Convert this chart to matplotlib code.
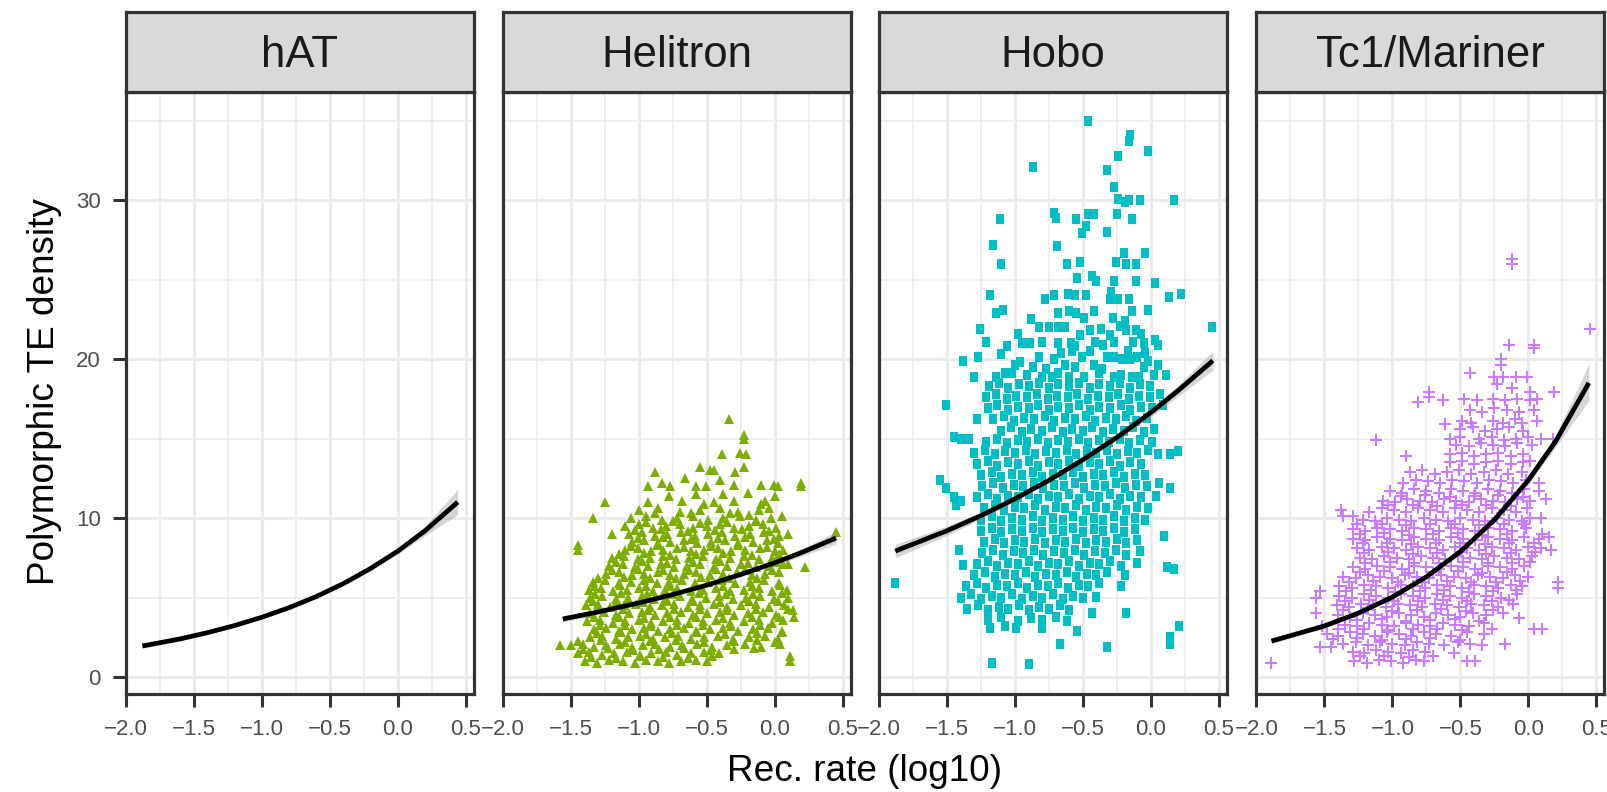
import numpy as np
import matplotlib.pyplot as plt
from matplotlib.ticker import MultipleLocator

plt.rcParams['font.family'] = ['Liberation Sans', 'DejaVu Sans']

### facets and colours
families = ['hAT', 'Helitron', 'Hobo', 'Tc1/Mariner']
point_cols = ['#F8766D', '#7CAE00', '#00BFC4', '#C77CFF']

x_ticks = [-2.0, -1.5, -1.0, -0.5, 0.0, 0.5]
x_ticklabels = ['\u22122.0', '\u22121.5', '\u22121.0', '\u22120.5', '0.0', '0.5']
y_ticks = [0, 10, 20, 30]
y_ticklabels = ['0', '10', '20', '30']

### points (rec. rate log10, TE density)
helitron_pts = [
    (-1.40, 1.0), (-1.31, 0.9), (-1.22, 1.1), (-1.12, 1.0), (-1.03, 0.9), (-0.95, 1.1), (-0.86, 1.0), (-0.78, 0.9), (-0.69, 1.0), (-0.58, 1.1), (-0.50, 1.0), (0.11, 1.0),
    (-1.35, 1.25), (-1.17, 1.2), (-0.99, 1.3), (-0.82, 1.25), (-0.64, 1.2), (-0.46, 1.3),
    (-1.45, 1.5), (-1.37, 1.6), (-1.27, 1.4), (-1.18, 1.5), (-1.09, 1.6), (-0.99, 1.4), (-0.91, 1.5), (-0.80, 1.6), (-0.72, 1.4), (-0.62, 1.5), (-0.52, 1.6), (-0.41, 1.5), (0.11, 1.3),
    (-1.41, 1.75), (-1.23, 1.8), (-1.04, 1.7), (-0.85, 1.75), (-0.67, 1.8), (-0.47, 1.7), (-0.30, 1.75), (-0.15, 1.8),
    (-1.58, 2.0), (-1.50, 2.0), (-1.41, 2.1), (-1.33, 1.9), (-1.24, 2.0), (-1.14, 2.1), (-1.05, 1.9), (-0.97, 2.0), (-0.88, 2.1), (-0.77, 1.9), (-0.68, 2.0), (-0.57, 2.1), (-0.46, 1.9), (-0.35, 2.0), (-0.22, 2.1), (-0.10, 1.9), (0.04, 2.1),
    (-1.45, 2.25), (-1.28, 2.3), (-1.10, 2.2), (-0.92, 2.25), (-0.73, 2.3), (-0.52, 2.2), (-0.30, 2.25), (-0.13, 2.3), (0.00, 2.2),
    (-1.36, 2.5), (-1.27, 2.6), (-1.17, 2.4), (-1.08, 2.5), (-0.99, 2.6), (-0.90, 2.4), (-0.81, 2.5), (-0.71, 2.6), (-0.62, 2.4), (-0.52, 2.5), (-0.42, 2.6), (-0.31, 2.4), (-0.19, 2.5), (-0.07, 2.6), (0.02, 2.4),
    (-1.31, 2.75), (-1.13, 2.8), (-0.95, 2.7), (-0.76, 2.75), (-0.57, 2.8), (-0.37, 2.7), (-0.13, 2.75), (0.05, 2.8),
    (-1.33, 3.0), (-1.24, 3.1), (-1.15, 2.9), (-1.05, 3.0), (-0.96, 3.1), (-0.86, 2.9), (-0.77, 3.0), (-0.67, 3.1), (-0.58, 2.9), (-0.48, 3.0), (-0.38, 3.1), (-0.27, 2.9), (-0.16, 3.0), (-0.05, 3.1), (0.05, 2.9),
    (-1.29, 3.25), (-1.10, 3.3), (-0.91, 3.2), (-0.72, 3.25), (-0.53, 3.3), (-0.32, 3.2), (-0.11, 3.25),
    (-1.38, 3.5), (-1.29, 3.6), (-1.19, 3.4), (-1.10, 3.5), (-1.00, 3.6), (-0.91, 3.4), (-0.82, 3.5), (-0.72, 3.6), (-0.63, 3.4), (-0.53, 3.5), (-0.43, 3.6), (-0.33, 3.4), (-0.23, 3.5), (-0.12, 3.6), (-0.02, 3.4), (0.06, 3.6),
    (-1.33, 3.75), (-1.15, 3.8), (-0.96, 3.7), (-0.77, 3.75), (-0.58, 3.8), (-0.38, 3.7), (-0.17, 3.75), (0.03, 3.8),
    (-1.36, 4.0), (-1.26, 4.1), (-1.17, 3.9), (-1.07, 4.0), (-0.98, 4.1), (-0.88, 3.9), (-0.79, 4.0), (-0.69, 4.1), (-0.60, 3.9), (-0.50, 4.0), (-0.40, 4.1), (-0.30, 3.9), (-0.20, 4.0), (-0.09, 4.1), (0.01, 3.9), (0.13, 4.2),
    (-1.31, 4.25), (-1.12, 4.3), (-0.93, 4.2), (-0.74, 4.25), (-0.55, 4.3), (-0.35, 4.2), (-0.14, 4.25), (0.10, 4.3),
    (-1.39, 4.5), (-1.30, 4.6), (-1.21, 4.4), (-1.11, 4.5), (-1.02, 4.6), (-0.92, 4.4), (-0.83, 4.5), (-0.74, 4.6), (-0.64, 4.4), (-0.55, 4.5), (-0.45, 4.6), (-0.35, 4.4), (-0.25, 4.5), (-0.14, 4.6), (-0.04, 4.4), (0.07, 4.5), (0.14, 3.8),
    (-1.34, 4.75), (-1.16, 4.8), (-0.97, 4.7), (-0.79, 4.75), (-0.60, 4.8), (-0.40, 4.7), (-0.19, 4.75), (0.02, 4.8),
    (-1.36, 5.0), (-1.27, 5.1), (-1.17, 4.9), (-1.08, 5.0), (-0.98, 5.1), (-0.89, 4.9), (-0.80, 5.0), (-0.70, 5.1), (-0.61, 4.9), (-0.51, 5.0), (-0.41, 5.1), (-0.31, 4.9), (-0.21, 5.0), (-0.11, 5.1), (-0.01, 4.9), (0.10, 5.0),
    (-1.32, 5.25), (-1.13, 5.3), (-0.94, 5.2), (-0.75, 5.25), (-0.56, 5.3), (-0.36, 5.2), (-0.16, 5.25), (0.05, 5.3),
    (-1.37, 5.5), (-1.28, 5.6), (-1.19, 5.4), (-1.09, 5.5), (-1.00, 5.6), (-0.90, 5.4), (-0.81, 5.5), (-0.72, 5.6), (-0.62, 5.4), (-0.53, 5.5), (-0.43, 5.6), (-0.33, 5.4), (-0.23, 5.5), (-0.12, 5.6), (-0.02, 5.4), (0.09, 5.5),
    (-1.33, 5.75), (-1.14, 5.8), (-0.95, 5.7), (-0.77, 5.75), (-0.58, 5.8), (-0.38, 5.7), (-0.17, 5.75), (0.04, 5.8),
    (-1.34, 6.0), (-1.25, 6.1), (-1.15, 5.9), (-1.06, 6.0), (-0.96, 6.1), (-0.87, 5.9), (-0.78, 6.0), (-0.68, 6.1), (-0.59, 5.9), (-0.49, 6.0), (-0.39, 6.1), (-0.29, 5.9), (-0.18, 6.0), (-0.08, 6.1), (0.03, 5.9),
    (-1.30, 6.25), (-1.11, 6.3), (-0.92, 6.2), (-0.73, 6.25), (-0.54, 6.3), (-0.34, 6.2), (-0.13, 6.25),
    (-1.24, 6.5), (-1.15, 6.6), (-1.05, 6.4), (-0.96, 6.5), (-0.86, 6.6), (-0.77, 6.4), (-0.67, 6.5), (-0.58, 6.6), (-0.48, 6.4), (-0.38, 6.5), (-0.28, 6.6), (-0.17, 6.4), (-0.07, 6.5), (0.03, 6.6),
    (-1.20, 6.75), (-1.01, 6.8), (-0.82, 6.7), (-0.63, 6.75), (-0.43, 6.8), (-0.22, 6.7), (-0.02, 6.75),
    (-1.22, 7.0), (-1.12, 7.1), (-1.03, 6.9), (-0.93, 7.0), (-0.84, 7.1), (-0.74, 6.9), (-0.65, 7.0), (-0.55, 7.1), (-0.45, 6.9), (-0.35, 7.0), (-0.25, 7.1), (-0.14, 6.9), (-0.04, 7.0), (0.06, 7.1), (0.22, 6.9), (0.10, 7.1),
    (-1.17, 7.25), (-0.98, 7.3), (-0.79, 7.2), (-0.60, 7.25), (-0.40, 7.3), (-0.20, 7.2), (0.01, 7.25),
    (-1.20, 7.5), (-1.11, 7.6), (-1.01, 7.4), (-0.92, 7.5), (-0.82, 7.6), (-0.73, 7.4), (-0.63, 7.5), (-0.53, 7.6), (-0.43, 7.4), (-0.33, 7.5), (-0.23, 7.6), (-0.12, 7.4), (-0.02, 7.5),
    (-1.15, 7.75), (-0.96, 7.8), (-0.77, 7.7), (-0.58, 7.75), (-0.38, 7.8), (-0.17, 7.7), (0.03, 7.75),
    (-1.45, 8.3), (-1.45, 8.0), (-1.10, 8.0), (-1.01, 8.1), (-0.91, 7.9), (-0.82, 8.0), (-0.72, 8.1), (-0.62, 7.9), (-0.52, 8.0), (-0.42, 8.1), (-0.32, 7.9), (-0.22, 8.0), (-0.11, 8.1), (0.00, 7.9), (0.06, 8.0),
    (-1.06, 8.25), (-0.87, 8.3), (-0.67, 8.2), (-0.47, 8.25), (-0.27, 8.3), (-0.06, 8.2),
    (-1.05, 8.5), (-0.96, 8.6), (-0.86, 8.4), (-0.77, 8.5), (-0.67, 8.6), (-0.57, 8.4), (-0.47, 8.5), (-0.37, 8.6), (-0.27, 8.4), (-0.16, 8.5), (-0.06, 8.6), (0.02, 8.4),
    (-1.01, 8.75), (-0.82, 8.8), (-0.62, 8.7), (-0.42, 8.75), (-0.22, 8.8), (-0.01, 8.7),
    (-1.20, 9.0), (-1.07, 9.0), (-0.98, 9.1), (-0.88, 8.9), (-0.79, 9.0), (-0.69, 9.1), (-0.59, 8.9), (-0.49, 9.0), (-0.39, 9.1), (-0.29, 8.9), (-0.18, 9.0), (-0.08, 9.1), (0.03, 8.9), (0.10, 9.0), (0.45, 9.1),
    (-1.03, 9.25), (-0.84, 9.3), (-0.64, 9.2), (-0.44, 9.25), (-0.24, 9.3), (-0.04, 9.2),
    (-1.10, 9.5), (-1.00, 9.6), (-0.90, 9.4), (-0.80, 9.5), (-0.70, 9.6), (-0.60, 9.4), (-0.50, 9.5), (-0.40, 9.6), (-0.30, 9.4), (-0.19, 9.5), (-0.09, 9.6), (0.01, 9.4),
    (-0.95, 9.75), (-0.75, 9.8), (-0.55, 9.7), (-0.35, 9.75), (-0.14, 9.8),
    (-1.34, 10.0), (-1.06, 10.0), (-0.95, 10.1), (-0.83, 9.9), (-0.72, 10.0), (-0.60, 10.1), (-0.49, 9.9), (-0.38, 10.0), (-0.26, 10.1), (-0.14, 9.9), (-0.03, 10.0), (0.05, 10.1),
    (-0.88, 10.3), (-0.62, 10.3), (-0.33, 10.3), (-0.19, 10.2),
    (-1.00, 10.5), (-0.86, 10.6), (-0.70, 10.4), (-0.55, 10.5), (-0.40, 10.6), (-0.27, 10.4), (-0.12, 10.5), (-0.04, 10.6),
    (-1.25, 11.0), (-0.93, 11.0), (-0.68, 11.1), (-0.52, 10.9), (-0.45, 11.0), (-0.30, 11.1), (-0.10, 10.9), (-0.07, 11.1),
    (-0.78, 11.4), (-0.58, 11.5), (-0.38, 11.5), (-0.20, 11.6), (0.00, 11.4),
    (-0.93, 12.0), (-0.83, 12.2), (-0.77, 12.0), (-0.58, 12.0), (-0.51, 12.0), (-0.30, 12.1), (-0.10, 12.1), (-0.01, 12.1), (0.02, 12.0), (0.19, 12.2), (0.19, 12.0),
    (-0.66, 12.5), (-0.40, 12.4),
    (-0.88, 12.9), (-0.55, 13.2), (-0.48, 13.0), (-0.45, 13.0), (-0.23, 13.2), (-0.29, 12.9), (-0.39, 14.0), (-0.26, 14.1), (-0.21, 14.0),
    (-0.23, 15.2), (-0.23, 15.0), (-0.34, 16.2),
]

hobo_pts = [
    (-0.46, 35.0), (-0.15, 34.1), (-0.16, 33.7), (-0.02, 33.1), (-0.24, 32.8), (-0.87, 32.1), (-0.32, 31.9), (-0.27, 30.8), (-0.24, 30.1), (-0.19, 29.9), (-0.16, 30.0), (-0.08, 30.0), (0.17, 30.0),
    (-1.11, 28.8), (-0.71, 29.2), (-0.70, 28.9), (-0.55, 28.8), (-0.46, 29.1), (-0.42, 29.1), (-0.25, 29.1), (-0.14, 28.8), (-0.48, 28.4), (-0.51, 27.9), (-0.32, 28.0),
    (-1.16, 27.2), (-0.69, 27.1), (-1.10, 26.0), (-0.62, 26.0), (-0.52, 26.1), (-0.20, 26.7), (-0.04, 26.7), (-0.26, 26.1), (-0.18, 26.0), (-0.11, 26.0),
    (-0.54, 25.1), (-0.43, 25.2), (-0.40, 24.9), (-0.27, 24.9), (-0.11, 24.9), (0.03, 24.8),
    (-1.18, 24.0), (-0.78, 23.8), (-0.71, 24.0), (-0.61, 24.1), (-0.56, 24.0), (-0.48, 24.0), (-0.29, 24.2), (-0.30, 23.8), (-0.24, 23.8), (-0.16, 23.8), (0.13, 23.9), (0.22, 24.1),
    (-1.14, 22.9), (-1.09, 23.1), (-0.68, 22.9), (-0.60, 23.0), (-0.55, 22.9), (-0.42, 23.0), (-0.14, 23.0), (-0.02, 23.1),
    (-0.88, 22.5), (-0.49, 22.6), (-0.28, 22.6), (-0.19, 22.4),
    (-1.26, 21.9), (-0.82, 22.0), (-0.75, 22.0), (-0.68, 22.0), (-0.63, 22.0), (-0.45, 21.8), (-0.37, 21.9), (-0.23, 22.1), (-0.18, 21.8), (-0.11, 21.8), (0.45, 22.0),
    (-0.98, 21.6), (-0.52, 21.5), (-0.30, 21.5), (-0.07, 21.6),
    (-1.21, 21.1), (-1.06, 20.8), (-0.95, 21.0), (-0.89, 21.0), (-0.80, 21.1), (-0.68, 21.0), (-0.59, 21.0), (-0.56, 20.8), (-0.41, 21.1), (-0.35, 20.9), (-0.27, 21.1), (-0.13, 21.1), (-0.05, 21.0), (0.03, 21.2), (0.05, 20.9),
    (-1.10, 20.3), (-0.66, 20.4), (-0.58, 20.5), (-0.45, 20.5), (-0.17, 20.5), (-0.04, 20.4),
    (-1.38, 19.9), (-1.27, 20.1), (-0.96, 19.8), (-0.82, 20.1), (-0.71, 20.0), (-0.51, 20.1), (-0.32, 20.1), (-0.27, 20.1), (-0.21, 20.0), (-0.15, 20.0), (-0.10, 20.1), (-0.02, 19.9),
    (-1.00, 19.6), (-0.87, 19.5), (-0.77, 19.4), (-0.63, 19.6), (-0.56, 19.5), (-0.42, 19.6), (-0.36, 19.4), (-0.05, 19.5), (0.05, 19.6),
    (-1.30, 18.9), (-1.14, 18.9), (-1.07, 19.1), (-1.02, 19.1), (-0.91, 19.0), (-0.80, 18.9), (-0.73, 18.9), (-0.68, 19.1), (-0.60, 18.9), (-0.49, 18.9), (-0.38, 19.1), (-0.27, 18.9), (-0.22, 19.0), (-0.14, 18.9), (-0.09, 18.9), (0.02, 19.0), (0.11, 19.0),
    (-1.19, 18.3), (-1.12, 18.5), (-1.05, 18.2), (-0.97, 18.4), (-0.90, 18.3), (-0.82, 18.5), (-0.75, 18.2), (-0.68, 18.4), (-0.60, 18.3), (-0.53, 18.5), (-0.45, 18.2), (-0.38, 18.4), (-0.30, 18.3), (-0.23, 18.5), (-0.15, 18.2), (-0.08, 18.4), (-0.01, 18.3),
    (-1.21, 17.6), (-1.14, 17.8), (-1.06, 17.5), (-0.99, 17.7), (-0.91, 17.6), (-0.84, 17.8), (-0.76, 17.5), (-0.69, 17.7), (-0.61, 17.6), (-0.54, 17.8), (-0.46, 17.5), (-0.39, 17.7), (-0.31, 17.6), (-0.24, 17.8), (-0.16, 17.5), (-0.09, 17.7), (-0.01, 17.6), (0.07, 17.8),
    (-1.20, 16.9), (-1.13, 17.1), (-1.05, 16.8), (-0.98, 17.0), (-0.90, 16.9), (-0.83, 17.1), (-0.75, 16.8), (-0.68, 17.0), (-0.60, 16.9), (-0.53, 17.1), (-0.45, 16.8), (-0.38, 17.0), (-0.30, 16.9), (-0.22, 17.1), (-0.15, 16.8), (-0.07, 17.0), (0.01, 16.9), (0.09, 17.1), (-1.51, 17.1),
    (-1.16, 16.2), (-1.08, 16.4), (-1.01, 16.1), (-0.93, 16.3), (-0.86, 16.2), (-0.78, 16.4), (-0.71, 16.1), (-0.63, 16.3), (-0.56, 16.2), (-0.48, 16.4), (-0.41, 16.1), (-0.33, 16.3), (-0.26, 16.2), (-0.18, 16.4), (-0.11, 16.1), (-0.03, 16.3), (-1.28, 16.2),
    (-1.10, 15.5), (-1.03, 15.7), (-0.95, 15.4), (-0.88, 15.6), (-0.80, 15.5), (-0.73, 15.7), (-0.65, 15.4), (-0.58, 15.6), (-0.50, 15.5), (-0.43, 15.7), (-0.35, 15.4), (-0.28, 15.6), (-0.20, 15.5), (-0.13, 15.7), (-0.05, 15.4), (0.02, 15.6), (-1.45, 15.1), (-1.40, 15.0), (-1.34, 15.0),
    (-1.21, 14.8), (-1.13, 15.0), (-1.06, 14.7), (-0.98, 14.9), (-0.91, 14.8), (-0.83, 15.0), (-0.76, 14.7), (-0.68, 14.9), (-0.61, 14.8), (-0.53, 15.0), (-0.46, 14.7), (-0.38, 14.9), (-0.31, 14.8), (-0.23, 15.0), (-0.16, 14.7), (-0.08, 14.9), (0.01, 14.8),
    (-1.30, 14.1), (-1.22, 14.3), (-1.15, 14.0), (-1.07, 14.2), (-1.00, 14.1), (-0.92, 14.3), (-0.85, 14.0), (-0.77, 14.2), (-0.70, 14.1), (-0.62, 14.3), (-0.55, 14.0), (-0.47, 14.2), (-0.40, 14.1), (-0.32, 14.3), (-0.25, 14.0), (-0.17, 14.2), (-0.10, 14.1), (-0.02, 14.3), (0.05, 14.0), (0.14, 14.0), (0.20, 14.2),
    (-1.28, 13.4), (-1.20, 13.6), (-1.13, 13.3), (-1.05, 13.5), (-0.98, 13.4), (-0.90, 13.6), (-0.83, 13.3), (-0.75, 13.5), (-0.68, 13.4), (-0.60, 13.6), (-0.53, 13.3), (-0.45, 13.5), (-0.38, 13.4), (-0.30, 13.6), (-0.23, 13.3), (-0.15, 13.5), (-0.07, 13.4),
    (-1.25, 12.7), (-1.17, 12.9), (-1.10, 12.6), (-1.02, 12.8), (-0.95, 12.7), (-0.87, 12.9), (-0.80, 12.6), (-0.72, 12.8), (-0.65, 12.7), (-0.57, 12.9), (-0.50, 12.6), (-0.42, 12.8), (-0.35, 12.7), (-0.27, 12.9), (-0.20, 12.6), (-0.12, 12.8), (-0.04, 12.7), (-1.55, 12.4),
    (-1.24, 12.0), (-1.16, 12.2), (-1.09, 11.9), (-1.01, 12.1), (-0.94, 12.0), (-0.86, 12.2), (-0.79, 11.9), (-0.71, 12.1), (-0.64, 12.0), (-0.56, 12.2), (-0.49, 11.9), (-0.41, 12.1), (-0.34, 12.0), (-0.26, 12.2), (-0.19, 11.9), (-0.11, 12.1), (-0.03, 12.0), (0.06, 12.2), (0.14, 11.9), (-1.51, 11.9),
    (-1.28, 11.3), (-1.20, 11.5), (-1.13, 11.2), (-1.05, 11.4), (-0.98, 11.3), (-0.90, 11.5), (-0.83, 11.2), (-0.75, 11.4), (-0.68, 11.3), (-0.60, 11.5), (-0.53, 11.2), (-0.45, 11.4), (-0.38, 11.3), (-0.30, 11.5), (-0.23, 11.2), (-0.15, 11.4), (-0.07, 11.3), (0.04, 11.4), (-1.45, 11.3), (-1.40, 11.1), (-1.43, 10.8),
    (-1.23, 10.6), (-1.15, 10.8), (-1.08, 10.5), (-1.00, 10.7), (-0.93, 10.6), (-0.85, 10.8), (-0.78, 10.5), (-0.70, 10.7), (-0.63, 10.6), (-0.55, 10.8), (-0.48, 10.5), (-0.40, 10.7), (-0.33, 10.6), (-0.25, 10.8), (-0.18, 10.5), (-0.10, 10.7), (-0.02, 10.6),
    (-1.25, 9.9), (-1.17, 10.1), (-1.10, 9.8), (-1.02, 10.0), (-0.95, 9.9), (-0.87, 10.1), (-0.80, 9.8), (-0.72, 10.0), (-0.65, 9.9), (-0.57, 10.1), (-0.50, 9.8), (-0.42, 10.0), (-0.35, 9.9), (-0.27, 10.1), (-0.20, 9.8), (-0.12, 10.0), (-0.04, 9.9),
    (-1.25, 9.2), (-1.17, 9.4), (-1.10, 9.1), (-1.02, 9.3), (-0.95, 9.2), (-0.87, 9.4), (-0.80, 9.1), (-0.72, 9.3), (-0.65, 9.2), (-0.57, 9.4), (-0.50, 9.1), (-0.42, 9.3), (-0.35, 9.2), (-0.27, 9.4), (-0.20, 9.1), (-0.12, 9.3), (0.10, 8.9),
    (-1.23, 8.5), (-1.15, 8.7), (-1.08, 8.4), (-1.00, 8.6), (-0.93, 8.5), (-0.85, 8.7), (-0.78, 8.4), (-0.70, 8.6), (-0.63, 8.5), (-0.55, 8.7), (-0.48, 8.4), (-0.40, 8.6), (-0.33, 8.5), (-0.25, 8.7), (-0.18, 8.4), (-0.10, 8.6),
    (-1.24, 7.8), (-1.16, 8.0), (-1.09, 7.7), (-1.01, 7.9), (-0.94, 7.8), (-0.86, 8.0), (-0.79, 7.7), (-0.71, 7.9), (-0.64, 7.8), (-0.56, 8.0), (-0.49, 7.7), (-0.41, 7.9), (-0.34, 7.8), (-0.26, 8.0), (-0.18, 7.7), (-0.08, 7.9), (-1.41, 8.0),
    (-1.28, 7.1), (-1.20, 7.3), (-1.13, 7.0), (-1.05, 7.2), (-0.98, 7.1), (-0.90, 7.3), (-0.83, 7.0), (-0.75, 7.2), (-0.68, 7.1), (-0.60, 7.3), (-0.53, 7.0), (-0.45, 7.2), (-0.38, 7.1), (-0.30, 7.3), (-0.22, 7.0), (-0.10, 7.2), (-1.38, 7.05), (0.12, 6.9), (0.17, 6.8),
    (-1.30, 6.4), (-1.22, 6.6), (-1.15, 6.3), (-1.07, 6.5), (-1.00, 6.4), (-0.92, 6.6), (-0.85, 6.3), (-0.77, 6.5), (-0.70, 6.4), (-0.62, 6.6), (-0.55, 6.3), (-0.47, 6.5), (-0.40, 6.4), (-0.32, 6.6), (-0.19, 6.4),
    (-1.36, 5.7), (-1.28, 5.9), (-1.21, 5.6), (-1.13, 5.8), (-1.06, 5.7), (-0.98, 5.9), (-0.91, 5.6), (-0.83, 5.8), (-0.76, 5.7), (-0.68, 5.9), (-0.61, 5.6), (-0.53, 5.8), (-0.46, 5.7), (-0.38, 5.9), (-0.22, 5.7), (-1.88, 5.9),
    (-1.40, 5.0), (-1.32, 5.2), (-1.25, 4.9), (-1.17, 5.1), (-1.10, 5.0), (-1.02, 5.2), (-0.95, 4.9), (-0.87, 5.1), (-0.80, 5.0), (-0.72, 5.2), (-0.65, 4.9), (-0.57, 5.1), (-0.50, 5.0), (-0.40, 5.05),
    (-1.35, 4.3), (-1.27, 4.5), (-1.20, 4.2), (-1.12, 4.4), (-1.05, 4.3), (-0.97, 4.5), (-0.90, 4.2), (-0.82, 4.4), (-0.75, 4.3), (-0.67, 4.5), (-0.60, 4.2), (-0.43, 4.0), (-0.18, 4.0),
    (-1.20, 3.6), (-1.10, 3.8), (-0.98, 3.5), (-0.88, 3.7), (-0.80, 3.6), (-0.70, 3.8), (-0.62, 3.5),
    (-1.18, 3.1), (-1.07, 3.2), (-0.99, 3.1), (-0.80, 3.1), (-0.54, 2.9), (-0.67, 2.1), (-0.32, 1.9), (-1.17, 0.9), (-0.90, 0.8), (0.14, 2.1), (0.14, 2.5), (0.21, 3.2),
]

tc1_pts = [
    (-1.28, 1.0), (-1.19, 0.9), (-1.10, 1.1), (-1.01, 1.0), (-0.92, 0.9), (-0.83, 1.1), (-0.77, 1.0), (-0.45, 1.0), (-0.39, 1.0), (-1.89, 0.9),
    (-1.24, 1.3), (-1.06, 1.35), (-0.88, 1.25), (-0.70, 1.3),
    (-1.29, 1.6), (-1.21, 1.5), (-1.12, 1.7), (-1.03, 1.6), (-0.94, 1.5), (-0.85, 1.7), (-0.76, 1.6), (-0.55, 1.5),
    (-1.53, 1.9), (-1.45, 1.9), (-1.36, 2.1), (-1.27, 2.2), (-1.18, 2.0), (-1.09, 2.2), (-1.00, 2.1), (-0.91, 2.0), (-0.82, 2.2), (-0.73, 2.1), (-0.62, 2.0), (-0.52, 2.2), (-0.43, 2.1), (-0.34, 2.0), (-0.17, 2.1),
    (-1.44, 2.4), (-1.26, 2.45), (-1.08, 2.35), (-0.90, 2.4), (-0.72, 2.45), (-0.50, 2.35),
    (-1.48, 2.7), (-1.40, 2.6), (-1.31, 2.8), (-1.22, 2.7), (-1.13, 2.6), (-1.04, 2.8), (-0.95, 2.7), (-0.86, 2.6), (-0.77, 2.8), (-0.68, 2.7), (-0.57, 2.6), (-0.45, 2.8), (-0.33, 2.7),
    (-1.40, 3.0), (-1.21, 3.05), (-1.03, 2.95), (-0.85, 3.0), (-0.67, 3.05), (-0.49, 2.95),
    (-1.52, 3.2), (-1.35, 3.3), (-1.26, 3.2), (-1.17, 3.4), (-1.08, 3.3), (-0.99, 3.2), (-0.90, 3.4), (-0.81, 3.3), (-0.72, 3.2), (-0.63, 3.4), (-0.54, 3.3), (-0.44, 3.2), (-0.33, 3.4), (-0.27, 3.0), (0.04, 3.0), (0.10, 3.0), (-0.07, 3.7),
    (-1.26, 3.6), (-1.08, 3.65), (-0.90, 3.55), (-0.72, 3.6), (-0.54, 3.65), (-0.36, 3.55),
    (-1.56, 4.0), (-1.40, 3.9), (-1.31, 3.8), (-1.22, 4.0), (-1.13, 3.9), (-1.04, 3.8), (-0.95, 4.0), (-0.86, 3.9), (-0.77, 3.8), (-0.68, 4.0), (-0.59, 3.9), (-0.50, 3.8), (-0.41, 4.0), (-0.31, 3.9), (-0.19, 4.0),
    (-1.36, 4.2), (-1.18, 4.25), (-1.00, 4.15), (-0.82, 4.2), (-0.64, 4.25), (-0.46, 4.15), (-0.26, 4.2),
    (-1.41, 4.5), (-1.32, 4.4), (-1.23, 4.6), (-1.14, 4.5), (-1.05, 4.4), (-0.96, 4.6), (-0.87, 4.5), (-0.78, 4.4), (-0.69, 4.6), (-0.60, 4.5), (-0.51, 4.4), (-0.42, 4.6), (-0.33, 4.5), (-0.22, 4.4), (-0.11, 4.6),
    (-1.35, 4.8), (-1.17, 4.85), (-0.99, 4.75), (-0.81, 4.8), (-0.63, 4.85), (-0.45, 4.75), (-0.27, 4.8), (-0.14, 4.85),
    (-1.56, 5.0), (-1.53, 5.4), (-1.39, 5.1), (-1.30, 5.0), (-1.21, 5.2), (-1.12, 5.1), (-1.03, 5.0), (-0.94, 5.2), (-0.85, 5.1), (-0.76, 5.0), (-0.67, 5.2), (-0.58, 5.1), (-0.49, 5.0), (-0.40, 5.2), (-0.31, 5.1), (-0.20, 5.0), (-0.08, 5.2), (0.22, 5.6), (0.22, 6.0),
    (-1.34, 5.4), (-1.16, 5.45), (-0.98, 5.35), (-0.80, 5.4), (-0.62, 5.45), (-0.44, 5.35), (-0.26, 5.4), (-0.09, 5.45),
    (-1.39, 5.7), (-1.30, 5.6), (-1.21, 5.8), (-1.12, 5.7), (-1.03, 5.6), (-0.94, 5.8), (-0.85, 5.7), (-0.76, 5.6), (-0.67, 5.8), (-0.58, 5.7), (-0.49, 5.6), (-0.40, 5.8), (-0.31, 5.7), (-0.22, 5.6), (-0.13, 5.8), (-0.05, 5.7),
    (-1.32, 6.0), (-1.14, 6.05), (-0.96, 5.95), (-0.78, 6.0), (-0.60, 6.05), (-0.42, 5.95), (-0.24, 6.0), (-0.06, 6.05),
    (-1.36, 6.3), (-1.27, 6.2), (-1.18, 6.4), (-1.09, 6.3), (-1.00, 6.2), (-0.91, 6.4), (-0.82, 6.3), (-0.73, 6.2), (-0.64, 6.4), (-0.55, 6.3), (-0.46, 6.2), (-0.37, 6.4), (-0.28, 6.3), (-0.19, 6.2), (-0.10, 6.4), (0.00, 6.3),
    (-1.24, 6.6), (-1.06, 6.65), (-0.88, 6.55), (-0.70, 6.6), (-0.52, 6.65), (-0.34, 6.55), (-0.16, 6.6),
    (-1.29, 6.9), (-1.20, 6.8), (-1.11, 7.0), (-1.02, 6.9), (-0.93, 6.8), (-0.84, 7.0), (-0.75, 6.9), (-0.66, 6.8), (-0.57, 7.0), (-0.48, 6.9), (-0.39, 6.8), (-0.30, 7.0), (-0.21, 6.9), (-0.12, 6.8), (-0.03, 7.0),
    (-1.20, 7.2), (-1.02, 7.25), (-0.84, 7.15), (-0.66, 7.2), (-0.48, 7.25), (-0.30, 7.15), (-0.12, 7.2), (0.01, 7.25),
    (-1.24, 7.5), (-1.15, 7.4), (-1.06, 7.6), (-0.97, 7.5), (-0.88, 7.4), (-0.79, 7.6), (-0.70, 7.5), (-0.61, 7.4), (-0.52, 7.6), (-0.43, 7.5), (-0.34, 7.4), (-0.25, 7.6), (-0.16, 7.5), (-0.07, 7.4), (0.03, 7.6),
    (-1.21, 7.8), (-1.03, 7.85), (-0.85, 7.75), (-0.67, 7.8), (-0.49, 7.85), (-0.31, 7.75), (-0.13, 7.8), (0.05, 7.85),
    (-1.26, 8.1), (-1.17, 8.0), (-1.08, 8.2), (-0.99, 8.1), (-0.90, 8.0), (-0.81, 8.2), (-0.72, 8.1), (-0.63, 8.0), (-0.54, 8.2), (-0.45, 8.1), (-0.36, 8.0), (-0.27, 8.2), (-0.18, 8.1), (-0.09, 8.0), (0.00, 8.2), (0.09, 8.1), (0.17, 8.0),
    (-1.22, 8.4), (-1.04, 8.45), (-0.86, 8.35), (-0.68, 8.4), (-0.50, 8.45), (-0.32, 8.35), (-0.14, 8.4), (0.04, 8.45),
    (-1.29, 8.7), (-1.20, 8.6), (-1.11, 8.8), (-1.02, 8.7), (-0.93, 8.6), (-0.84, 8.8), (-0.75, 8.7), (-0.66, 8.6), (-0.57, 8.8), (-0.48, 8.7), (-0.39, 8.6), (-0.30, 8.8), (-0.21, 8.7), (-0.12, 8.6), (-0.03, 8.8), (0.08, 8.7), (0.15, 8.8),
    (-1.24, 9.0), (-1.06, 9.05), (-0.88, 8.95), (-0.70, 9.0), (-0.52, 9.05), (-0.34, 8.95), (-0.16, 9.0),
    (-1.29, 9.3), (-1.20, 9.2), (-1.11, 9.4), (-1.02, 9.3), (-0.93, 9.2), (-0.84, 9.4), (-0.75, 9.3), (-0.66, 9.2), (-0.57, 9.4), (-0.48, 9.3), (-0.39, 9.2), (-0.30, 9.4), (-0.21, 9.3), (-0.12, 9.2), (-0.02, 9.4), (0.10, 9.0),
    (-1.26, 9.6), (-1.08, 9.65), (-0.90, 9.55), (-0.72, 9.6), (-0.54, 9.65), (-0.36, 9.55), (-0.18, 9.6), (-0.03, 9.65),
    (-1.36, 10.1), (-1.29, 10.1), (-1.22, 9.9), (-1.13, 9.8), (-1.04, 10.0), (-0.95, 9.9), (-0.86, 9.8), (-0.77, 10.0), (-0.68, 9.9), (-0.59, 9.8), (-0.50, 10.0), (-0.41, 9.9), (-0.32, 9.8), (-0.23, 10.0), (-0.14, 9.9), (-0.05, 9.8), (0.01, 10.0), (0.09, 10.0),
    (-1.38, 10.5), (-1.17, 10.4), (-1.08, 10.6), (-0.99, 10.5), (-0.90, 10.4), (-0.81, 10.6), (-0.72, 10.5), (-0.63, 10.4), (-0.54, 10.6), (-0.45, 10.5), (-0.36, 10.4), (-0.27, 10.6), (-0.18, 10.5), (-0.09, 10.4), (-0.01, 10.6),
    (-1.03, 10.8), (-0.85, 10.85), (-0.67, 10.75), (-0.49, 10.8), (-0.31, 10.85), (-0.13, 10.75),
    (-1.07, 11.1), (-0.98, 11.0), (-0.89, 11.2), (-0.80, 11.1), (-0.71, 11.0), (-0.62, 11.2), (-0.53, 11.1), (-0.44, 11.0), (-0.35, 11.2), (-0.26, 11.1), (-0.17, 11.0), (-0.08, 11.2), (0.01, 11.1), (0.13, 11.2),
    (-0.94, 11.4), (-0.76, 11.45), (-0.58, 11.35), (-0.40, 11.4), (-0.22, 11.45), (-0.04, 11.35),
    (-1.02, 11.7), (-0.93, 11.6), (-0.84, 11.8), (-0.75, 11.7), (-0.66, 11.6), (-0.57, 11.8), (-0.48, 11.7), (-0.39, 11.6), (-0.30, 11.8), (-0.21, 11.7), (-0.12, 11.6), (-0.03, 11.8), (0.08, 11.7),
    (-0.92, 12.2), (-0.83, 12.4), (-0.74, 12.3), (-0.65, 12.2), (-0.56, 12.4), (-0.47, 12.3), (-0.38, 12.2), (-0.29, 12.4), (-0.20, 12.3), (-0.11, 12.2), (-0.02, 12.4), (0.08, 12.2),
    (-0.87, 12.9), (-0.78, 13.0), (-0.69, 12.8), (-0.60, 12.9), (-0.51, 13.0), (-0.42, 12.8), (-0.33, 12.9), (-0.24, 13.0), (-0.15, 12.8), (-0.05, 12.9),
    (-0.58, 13.5), (-0.49, 13.6), (-0.40, 13.4), (-0.31, 13.5), (-0.22, 13.6), (-0.13, 13.4), (-0.04, 13.5), (0.01, 13.6),
    (-0.90, 13.9), (-0.58, 14.0), (-0.49, 14.1), (-0.40, 13.9), (-0.31, 14.0), (-0.22, 14.1), (-0.13, 13.9), (-0.04, 14.0),
    (-0.53, 14.6), (-0.44, 14.5), (-0.35, 14.7), (-0.26, 14.6), (-0.17, 14.5), (-0.08, 14.7), (0.03, 14.6),
    (-1.12, 14.9), (-0.58, 15.0), (-0.50, 15.1), (-0.36, 15.0), (-0.27, 15.1), (-0.18, 14.9), (-0.09, 15.0), (0.00, 15.1), (0.09, 15.0), (0.18, 15.0),
    (-0.61, 15.9), (-0.50, 15.6), (-0.41, 15.7), (-0.32, 15.5), (-0.23, 15.6), (-0.14, 15.7), (-0.04, 15.5),
    (-0.49, 16.1), (-0.42, 16.0), (-0.26, 16.1), (-0.19, 16.0), (-0.10, 16.2), (-0.05, 16.0), (0.06, 16.1),
    (-0.43, 16.8), (-0.34, 16.7), (-0.25, 16.9), (-0.16, 16.8), (-0.07, 16.7), (0.04, 16.8),
    (-0.81, 17.3), (-0.63, 17.4), (-0.47, 17.5), (-0.38, 17.4), (-0.26, 17.5), (-0.17, 17.4), (-0.08, 17.5), (0.01, 17.4), (0.06, 17.5),
    (-0.73, 17.9), (-0.73, 17.6), (-0.23, 18.4), (-0.12, 18.2), (0.01, 17.9), (0.19, 17.9), (-0.25, 18.9), (-0.19, 18.9), (-0.09, 18.9), (-0.01, 18.9),
    (-0.43, 19.1), (-0.20, 20.0), (-0.20, 19.6), (-0.14, 20.9), (0.04, 20.9), (0.04, 20.7), (0.45, 21.9), (-0.12, 26.3), (-0.12, 26.0),
]

### fitted curves with confidence band (read at a few rec. rate values)
hat_fit_x = [-1.88, -1.6, -1.4, -1.2, -1.0, -0.8, -0.6, -0.4, -0.2, 0.0, 0.2, 0.44]
hat_fit = [1.95, 2.40, 2.79, 3.24, 3.76, 4.36, 5.06, 5.88, 6.83, 7.92, 9.20, 11.0]
hat_lo = [1.80, 2.27, 2.68, 3.15, 3.69, 4.31, 5.01, 5.81, 6.72, 7.74, 8.90, 10.2]
hat_hi = [2.10, 2.53, 2.90, 3.33, 3.83, 4.41, 5.11, 5.95, 6.94, 8.10, 9.50, 11.8]

heli_fit_x = [-1.56, -1.3, -1.0, -0.75, -0.5, -0.25, 0.0, 0.2, 0.45]
heli_fit = [3.65, 4.09, 4.66, 5.19, 5.78, 6.45, 7.19, 7.84, 8.74]
heli_lo = [3.45, 3.93, 4.54, 5.10, 5.70, 6.35, 7.03, 7.60, 8.35]
heli_hi = [3.85, 4.25, 4.78, 5.28, 5.86, 6.55, 7.35, 8.08, 9.13]

hobo_fit_x = [-1.88, -1.5, -1.25, -1.0, -0.75, -0.5, -0.25, 0.0, 0.2, 0.456]
hobo_fit = [7.92, 9.20, 10.15, 11.21, 12.37, 13.67, 15.07, 16.64, 18.01, 19.9]
hobo_lo = [7.50, 8.90, 9.95, 11.06, 12.25, 13.55, 14.90, 16.38, 17.65, 19.30]
hobo_hi = [8.35, 9.50, 10.35, 11.36, 12.49, 13.79, 15.24, 16.90, 18.37, 20.50]

tc1_fit_x = [-1.89, -1.5, -1.25, -1.0, -0.75, -0.5, -0.25, 0.0, 0.2, 0.445]
tc1_fit = [2.26, 3.21, 4.02, 5.03, 6.30, 7.89, 9.88, 12.38, 14.82, 18.5]
tc1_lo = [2.10, 3.08, 3.92, 4.95, 6.22, 7.80, 9.75, 12.15, 14.45, 17.4]
tc1_hi = [2.42, 3.34, 4.12, 5.11, 6.38, 7.98, 10.01, 12.61, 15.19, 19.7]


### Plot
W, H = 1608, 792
fig = plt.figure(figsize=(W / 100, H / 100), dpi=100)

panel_left = [126, 503, 879, 1256.5]
panel_w = 348
panel_top, panel_bot, strip_top = 92, 694, 12

# slightly tall box for the Hobo squares
rect = [(-0.41, -0.5), (0.41, -0.5), (0.41, 0.5), (-0.41, 0.5), (-0.41, -0.5)]

points = [None, helitron_pts, hobo_pts, tc1_pts]
markers = [None, dict(marker='^', ms=7.6, mew=0),
           dict(marker=rect, ms=7.2, mew=0),
           dict(marker='+', ms=9.0, mew=1.5)]
curves = [(hat_fit_x, hat_fit, hat_lo, hat_hi),
          (heli_fit_x, heli_fit, heli_lo, heli_hi),
          (hobo_fit_x, hobo_fit, hobo_lo, hobo_hi),
          (tc1_fit_x, tc1_fit, tc1_lo, tc1_hi)]

border = '#333333'
for i, fam in enumerate(families):
    l = panel_left[i] / W
    w = panel_w / W
    ax = fig.add_axes([l, 1 - panel_bot / H, w, (panel_bot - panel_top) / H])
    ax.set_xlim(-2.0, 0.56)
    ax.set_ylim(-1.07, 36.8)

    ax.set_xticks(x_ticks)
    ax.set_xticklabels(x_ticklabels)
    ax.set_yticks(y_ticks)
    ax.set_yticklabels(y_ticklabels)
    ax.xaxis.set_minor_locator(MultipleLocator(0.25))
    ax.yaxis.set_minor_locator(MultipleLocator(5))
    ax.grid(which='major', color='#EBEBEB', lw=2.2)
    ax.grid(which='minor', color='#EBEBEB', lw=1.1)
    ax.set_axisbelow(True)
    ax.tick_params(which='major', length=9.5, width=2.2, color=border,
                   labelsize=16, labelcolor='#4D4D4D', pad=8.5)
    ax.tick_params(which='minor', length=0)
    if i > 0:
        ax.tick_params(axis='y', which='both', left=False, labelleft=False)
    for sp in ax.spines.values():
        sp.set_color(border)
        sp.set_linewidth(2.3)
        sp.set_zorder(5)

    if points[i] is not None:
        px, py = zip(*points[i])
        ax.plot(px, py, ls='none', color=point_cols[i], zorder=2, **markers[i])

    cx, cy, clo, chi = curves[i]
    ax.fill_between(cx, clo, chi, color='#999999', alpha=0.4, lw=0, zorder=3)
    ax.plot(cx, cy, color='black', lw=3.4, zorder=4, solid_capstyle='butt')

    # facet strip
    st = fig.add_axes([l, 1 - panel_top / H, w, (panel_top - strip_top) / H])
    st.set_facecolor('#D9D9D9')
    st.set_xticks([])
    st.set_yticks([])
    for sp in st.spines.values():
        sp.set_color(border)
        sp.set_linewidth(2.3)
    st.text(0.5, (panel_top - 66.7) / (panel_top - strip_top), fam,
            ha='center', va='baseline', fontsize=31.5, color='#1A1A1A',
            transform=st.transAxes)

fig.text(54 / W, 1 - 392 / H, 'Polymorphic TE density', rotation=90,
         rotation_mode='anchor', ha='center', va='baseline', fontsize=26.6)
fig.text(865 / W, 1 - 781 / H, 'Rec. rate (log10)', ha='center',
         va='baseline', fontsize=26.6)

fig.savefig('out.png', dpi=100)
